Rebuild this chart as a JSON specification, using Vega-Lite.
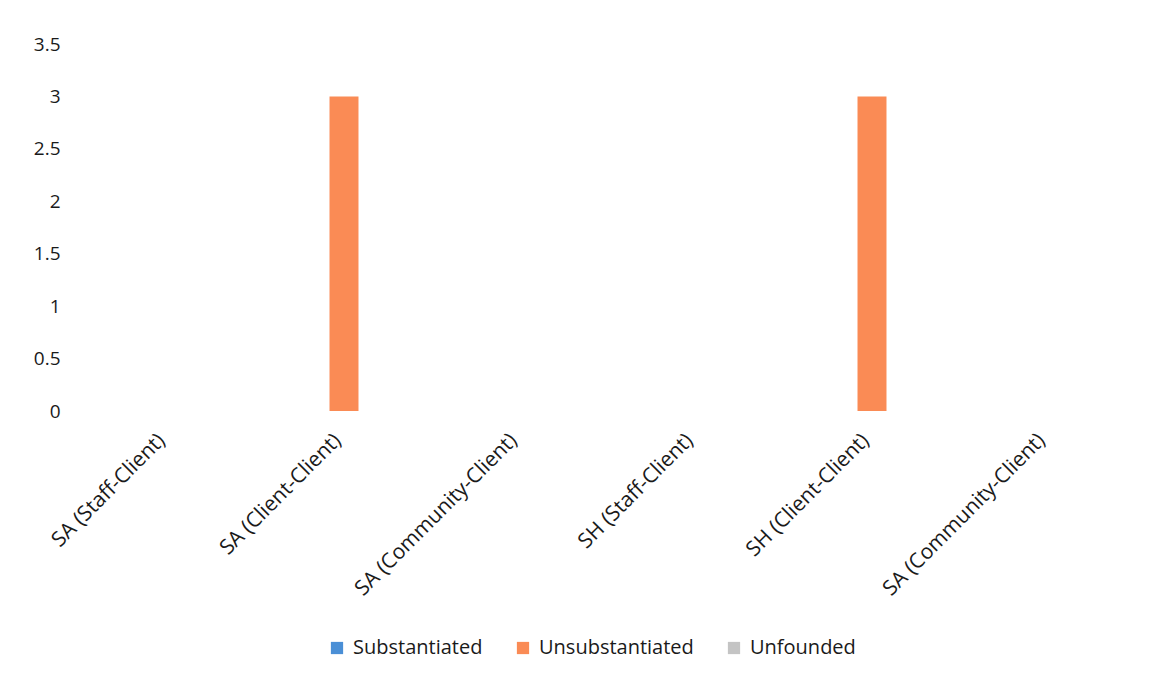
{
  "$schema": "https://vega.github.io/schema/vega-lite/v6.json",
  "autosize": {"type": "none"},
  "padding": {"left": 80, "top": 44, "right": 24, "bottom": 265},
  "width": 1056,
  "height": 367,
  "background": "white",
  "data": {
    "values": [
      {"category": "SA (Staff-Client)", "order": 1, "type": "Substantiated", "count": 0},
      {"category": "SA (Staff-Client)", "order": 1, "type": "Unsubstantiated", "count": 0},
      {"category": "SA (Staff-Client)", "order": 1, "type": "Unfounded", "count": 0},
      {"category": "SA (Client-Client)", "order": 2, "type": "Substantiated", "count": 0},
      {"category": "SA (Client-Client)", "order": 2, "type": "Unsubstantiated", "count": 3},
      {"category": "SA (Client-Client)", "order": 2, "type": "Unfounded", "count": 0},
      {"category": "SA (Community-Client)", "order": 3, "type": "Substantiated", "count": 0},
      {"category": "SA (Community-Client)", "order": 3, "type": "Unsubstantiated", "count": 0},
      {"category": "SA (Community-Client)", "order": 3, "type": "Unfounded", "count": 0},
      {"category": "SH (Staff-Client)", "order": 4, "type": "Substantiated", "count": 0},
      {"category": "SH (Staff-Client)", "order": 4, "type": "Unsubstantiated", "count": 0},
      {"category": "SH (Staff-Client)", "order": 4, "type": "Unfounded", "count": 0},
      {"category": "SH (Client-Client)", "order": 5, "type": "Substantiated", "count": 0},
      {"category": "SH (Client-Client)", "order": 5, "type": "Unsubstantiated", "count": 3},
      {"category": "SH (Client-Client)", "order": 5, "type": "Unfounded", "count": 0},
      {"category": "SA (Community-Client)\u200b", "order": 6, "type": "Substantiated", "count": 0},
      {"category": "SA (Community-Client)\u200b", "order": 6, "type": "Unsubstantiated", "count": 0},
      {"category": "SA (Community-Client)\u200b", "order": 6, "type": "Unfounded", "count": 0}
    ]
  },
  "mark": {"type": "bar"},
  "encoding": {
    "x": {
      "field": "category",
      "type": "nominal",
      "sort": {"field": "order"},
      "scale": {"paddingInner": 0.506, "paddingOuter": 0.253},
      "axis": {
        "title": null,
        "domain": false,
        "ticks": false,
        "labelAngle": -45,
        "labelAlign": "right",
        "labelBaseline": "middle",
        "labelPadding": 26,
        "labelOffset": -6,
        "labelFont": "Open Sans",
        "labelFontSize": 21,
        "labelColor": "#1a1a1a",
        "labelLimit": 400
      }
    },
    "xOffset": {
      "field": "type",
      "type": "nominal",
      "sort": ["Substantiated", "Unsubstantiated", "Unfounded"],
      "scale": {"paddingInner": 0, "paddingOuter": 0}
    },
    "y": {
      "field": "count",
      "type": "quantitative",
      "scale": {"domain": [0, 3.5], "nice": false},
      "axis": {
        "title": null,
        "values": [0, 0.5, 1, 1.5, 2, 2.5, 3, 3.5],
        "format": "~g",
        "domain": false,
        "ticks": false,
        "grid": false,
        "labelPadding": 20,
        "labelFont": "Open Sans",
        "labelFontSize": 19,
        "labelColor": "#1a1a1a"
      }
    },
    "color": {
      "field": "type",
      "type": "nominal",
      "sort": ["Substantiated", "Unsubstantiated", "Unfounded"],
      "scale": {
        "domain": ["Substantiated", "Unsubstantiated", "Unfounded"],
        "range": ["#4a8fd6", "#fa8b55", "#c4c4c4"]
      },
      "legend": {
        "title": null,
        "orient": "none",
        "legendX": 247,
        "legendY": 594,
        "direction": "horizontal",
        "symbolType": "square",
        "symbolSize": 150,
        "symbolStrokeWidth": 0,
        "labelFont": "Open Sans",
        "labelFontSize": 20,
        "labelColor": "#1a1a1a",
        "labelOffset": 6,
        "columnPadding": 30
      }
    }
  },
  "config": {"view": {"stroke": null}}
}
